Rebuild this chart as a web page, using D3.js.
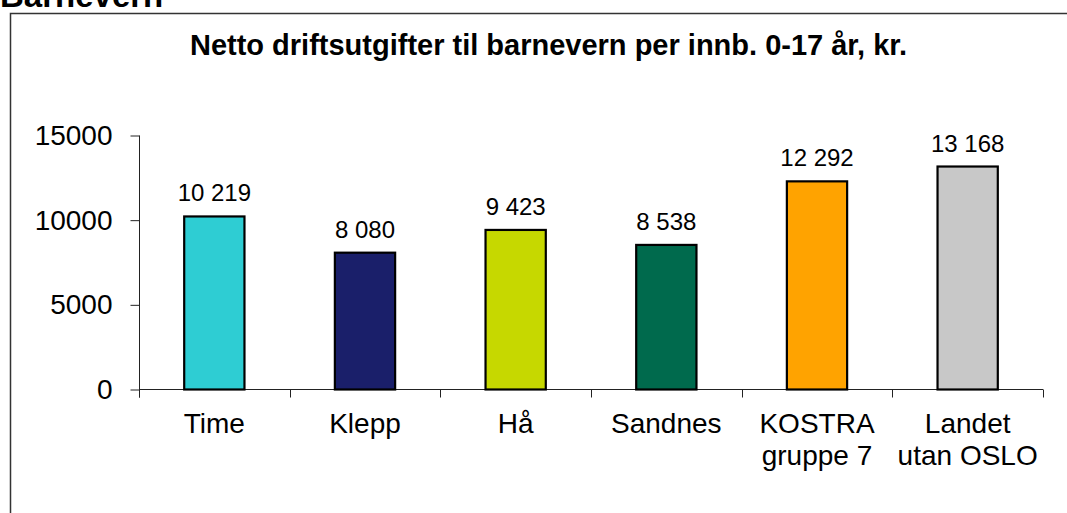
<!DOCTYPE html>
<html>
<head>
<meta charset="utf-8">
<script src="https://cdn.jsdelivr.net/npm/d3@7"></script>
<style>
html,body{margin:0;padding:0;background:#fff;}
svg{display:block;font-family:"Liberation Sans",Arial,sans-serif;}
</style>
</head>
<body>
<svg id="chart" width="1067" height="513"></svg>
<script>
const categories = [["Time"],["Klepp"],["Hå"],["Sandnes"],["KOSTRA","gruppe 7"],["Landet","utan OSLO"]];
const values = [10219, 8080, 9423, 8538, 12292, 13168];
const valueLabels = ["10 219","8 080","9 423","8 538","12 292","13 168"];
const colors = ["#2ECDD3","#1A1F6A","#C6D800","#006A4D","#FFA300","#C8C8C8"];
const yTicks = [0, 5000, 10000, 15000];
const title = "Netto driftsutgifter til barnevern per innb. 0-17 år, kr.";
const heading = "Barnevern";

const svg = d3.select("#chart");
const keys = categories.map(c => c.join(" "));

// frame
svg.append("path").attr("d","M10.5,513 L10.5,13.5 L1067,13.5")
  .attr("fill","none").attr("stroke","#333").attr("stroke-width",1.5);

svg.append("text").attr("x",0).attr("y",7).attr("font-weight","bold")
  .attr("font-size",33).attr("fill","#000").text(heading);

svg.append("text").attr("x",548.5).attr("y",55).attr("text-anchor","middle")
  .attr("font-weight","bold").attr("font-size",29).attr("fill","#000").text(title);

const x = d3.scaleBand().domain(keys).range([139,1043]).paddingInner(0).paddingOuter(0);
const y = d3.scaleLinear().domain([0,15000]).range([389.5,135.5]);

// y axis
const ya = svg.append("g").attr("transform","translate(139.5,0)")
  .call(d3.axisLeft(y).tickValues(yTicks).tickSize(9).tickPadding(18).tickFormat(d3.format("d")));
ya.select(".domain").remove();
ya.selectAll(".tick line").attr("stroke","#222");
ya.selectAll(".tick text").attr("font-size",28).attr("font-family","Liberation Sans, Arial, sans-serif").attr("fill","#000");
svg.append("line").attr("x1",139.5).attr("x2",139.5).attr("y1",y(15000)).attr("y2",y(0)+8).attr("stroke","#222");

// x axis line and boundary ticks
svg.append("line").attr("x1",139).attr("x2",1043).attr("y1",y(0)).attr("y2",y(0)).attr("stroke","#222");
const bounds = keys.map(k => x(k)).concat([x(keys[keys.length-1]) + x.bandwidth()]);
svg.selectAll("line.bt").data(bounds).enter().append("line").attr("class","bt")
  .attr("x1",d=>Math.round(d)+0.5).attr("x2",d=>Math.round(d)+0.5)
  .attr("y1",y(0)).attr("y2",y(0)+8).attr("stroke","#222");

// bars
const bw = x.bandwidth()*0.4;
svg.selectAll("rect.bar").data(values).enter().append("rect").attr("class","bar")
  .attr("x",(d,i)=>x(keys[i]) + x.bandwidth()/2 - bw/2)
  .attr("y",d=>y(d)).attr("width",bw).attr("height",d=>y(0)-y(d))
  .attr("fill",(d,i)=>colors[i]).attr("stroke","#000").attr("stroke-width",2.2);

// value labels
svg.selectAll("text.val").data(values).enter().append("text").attr("class","val")
  .attr("x",(d,i)=>x(keys[i]) + x.bandwidth()/2).attr("y",d=>y(d)-15)
  .attr("text-anchor","middle").attr("font-size",24).attr("fill","#000")
  .text((d,i)=>valueLabels[i]);

// category labels
const cl = svg.selectAll("text.cat").data(categories).enter().append("text").attr("class","cat")
  .attr("text-anchor","middle").attr("font-size",28).attr("fill","#000");
cl.each(function(lines,i){
  const t = d3.select(this);
  lines.forEach((ln,j)=>{
    t.append("tspan").attr("x", x(keys[i]) + x.bandwidth()/2).attr("y", 433 + j*32).text(ln);
  });
});
</script>
</body>
</html>
